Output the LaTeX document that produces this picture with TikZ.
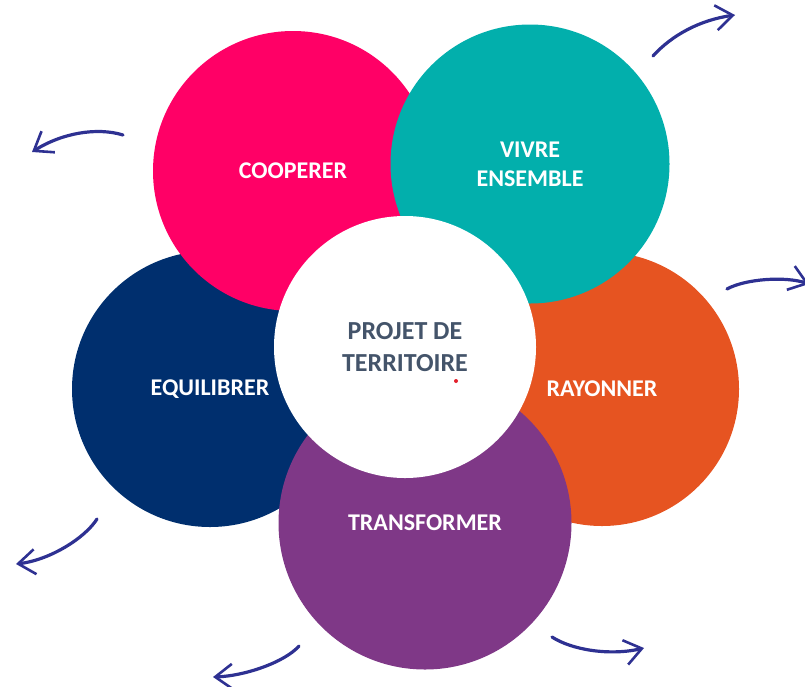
\documentclass[tikz,border=0pt]{standalone}
\usepackage{fontspec}
\setmainfont{Carlito}
\usetikzlibrary{arrows.meta}

\definecolor{hotpink}{HTML}{FF0066}
\definecolor{lagoon}{HTML}{02AFAC}
\definecolor{navyblue}{HTML}{002F6E}
\definecolor{burnt}{HTML}{E65421}
\definecolor{plum}{HTML}{7F3887}
\definecolor{slate}{HTML}{44546A}
\definecolor{inkblue}{HTML}{2E3192}
\definecolor{dotred}{HTML}{E3202C}

\begin{document}
\begin{tikzpicture} [
                x=1pt, y=-1pt,
                petal/.style={circle,minimum size=#1,inner sep=0pt,align=center,
                    text=white,font=\bfseries\fontsize{24}{29}\selectfont},
                hub/.style = {petal=#1, fill=white, text=slate,
                    font=\bfseries\fontsize{26}{32}\selectfont},
                sweep/.style = {draw=inkblue,line width=3.2pt,line cap=round,
                    -{Straight Barb[length=17pt,width=25pt,line width=2.6pt]}},
            ]
            \useasboundingbox (0,0) rectangle (805,686);
            \clip (0,0) rectangle (805,686);
            % First the five petals, back to front
            \foreach \name/\pos/\size/\shade/\txt in {
                    {equi/(210,389)/276/navyblue/EQUILIBRER},
                    {rayo/(602,389)/274/burnt/RAYONNER},
                    {coop/(293,171)/280/hotpink/COOPERER},
                    {vivre/(530,164)/279/lagoon/{VIVRE\\ENSEMBLE}},
                    {trans/(425,523)/293/plum/TRANSFORMER}}
                \node[petal=\size pt, fill=\shade] (\name) at \pos {\txt};
            % white heart on top
            \node[hub=262pt] (projet) at (405,347) {PROJET DE\\TERRITOIRE};
            \node[circle,fill=dotred,inner sep=0pt,minimum size=4pt] (dot) at (456,381) {};
            % ends of the brush arrows
            \coordinate (ne0) at (653,56);   \coordinate (ne1) at (735,15);
            \coordinate (nw0) at (123,135);  \coordinate (nw1) at (32,152);
            \coordinate (e0) at (727,289);   \coordinate (e1) at (809,284);
            \coordinate (sw0) at (97,519);   \coordinate (sw1) at (16,564);
            \coordinate (s0) at (299,646);   \coordinate (s1) at (213,677);
            \coordinate (se0) at (552,637);  \coordinate (se1) at (644,648);
            \draw[sweep] (ne0) .. controls (672,35) and (700,20) .. (ne1);
            \draw[sweep] (nw0) .. controls (97,127) and (62,133) .. (nw1);
            \draw[sweep] (e0) .. controls (745,279) and (785,276) .. (e1);
            \draw[sweep] (sw0) .. controls (85,538) and (50,560) .. (sw1);
            \draw[sweep] (s0) .. controls (285,662) and (245,676) .. (s1);
            \draw[sweep] (se0) .. controls (572,650) and (610,656) .. (se1);
        \end{tikzpicture}
\end{document}
